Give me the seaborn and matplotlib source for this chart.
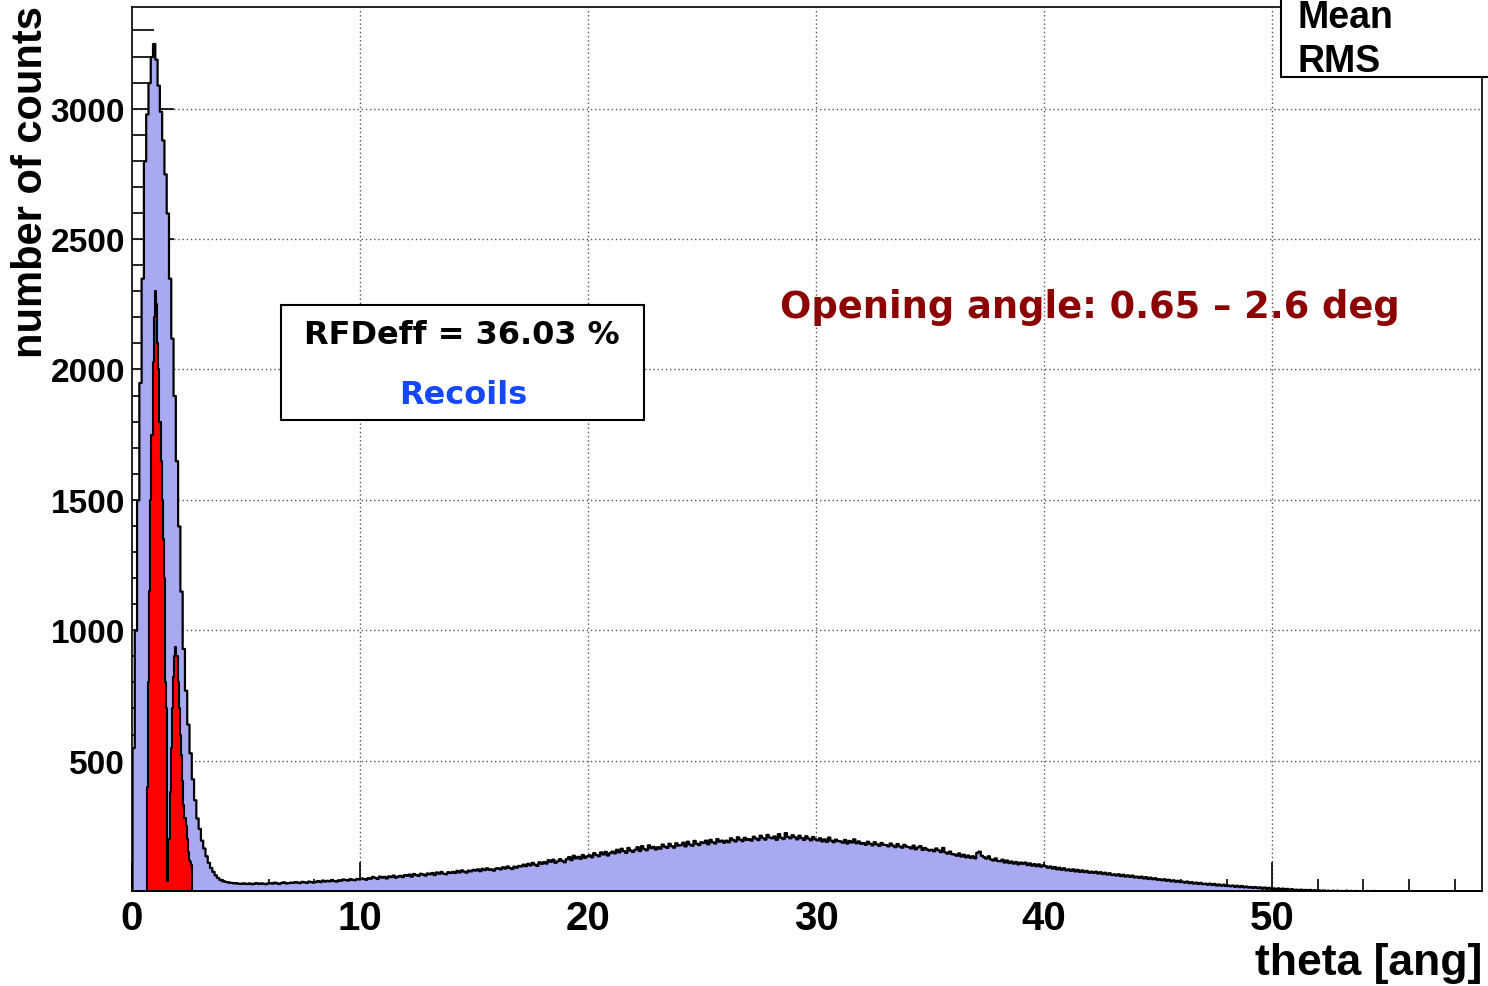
import numpy as np
import pandas as pd
import seaborn as sns
import matplotlib
matplotlib.use("Agg")
import matplotlib.pyplot as plt
from matplotlib.ticker import MultipleLocator, FixedLocator
from matplotlib.patches import Rectangle

# ---------------- data ----------------
BLUE_BIN = 0.1
blue_counts = [
    # 0.0 - 3.9 deg (peak)
    550, 1000, 1500, 1950, 2350, 2800, 2980, 3100, 3200, 3250,
    3190, 3090, 2990, 2880, 2750, 2600, 2350, 2120, 1900, 1650,
    1400, 1150, 930, 770, 640, 530, 430, 350, 280, 240,
    195, 165, 135, 110, 90, 75, 62, 52, 45, 40,
    # 4 .. 59 deg
    38, 36, 34, 33, 31, 32, 30, 29, 31, 30,
    29, 31, 28, 30, 32, 29, 31, 30, 28, 31,
    32, 30, 34, 31, 29, 33, 35, 31, 32, 34,
    33, 36, 34, 32, 37, 35, 33, 38, 36, 34,
    37, 40, 36, 42, 38, 41, 39, 44, 40, 38,
    43, 41, 46, 44, 42, 47, 45, 43, 48, 46,
    50, 48, 45, 51, 49, 56, 52, 48, 57, 53,
    56, 50, 58, 55, 61, 53, 57, 60, 55, 63,
    60, 65, 57, 67, 63, 60, 68, 65, 61, 69,
    66, 71, 63, 73, 68, 75, 68, 66, 74, 71,
    75, 71, 79, 73, 81, 76, 72, 80, 77, 83,
    80, 85, 78, 87, 82, 89, 83, 85, 80, 88,
    89, 85, 93, 88, 96, 90, 86, 95, 91, 98,
    96, 103, 97, 106, 100, 110, 103, 98, 112, 106,
    113, 107, 120, 114, 122, 110, 116, 124, 117, 112,
    124, 132, 120, 137, 127, 133, 125, 140, 129, 135,
    139, 131, 147, 140, 135, 150, 142, 152, 138, 147,
    153, 146, 160, 150, 164, 155, 148, 167, 157, 152,
    160, 170, 155, 174, 163, 158, 177, 166, 171, 161,
    170, 164, 180, 172, 167, 183, 174, 168, 185, 176,
    178, 187, 173, 191, 180, 175, 194, 183, 178, 189,
    186, 195, 181, 198, 189, 184, 201, 191, 195, 187,
    195, 189, 204, 197, 192, 208, 199, 193, 206, 198,
    201, 195, 210, 203, 197, 214, 205, 199, 217, 207,
    204, 211, 198, 220, 206, 201, 224, 209, 204, 216,
    208, 200, 214, 205, 198, 212, 203, 196, 209, 200,
    196, 204, 192, 200, 190, 207, 195, 189, 199, 193,
    192, 187, 198, 184, 194, 188, 200, 185, 192, 183,
    186, 179, 191, 183, 177, 189, 181, 175, 186, 179,
    178, 173, 184, 176, 170, 182, 173, 168, 179, 172,
    170, 165, 176, 162, 169, 174, 159, 167, 161, 157,
    160, 154, 165, 158, 151, 167, 150, 145, 153, 143,
    142, 137, 146, 134, 141, 131, 138, 129, 135, 127,
    148, 153, 137, 131, 126, 135, 123, 119, 127, 117,
    116, 122, 111, 119, 109, 115, 107, 113, 104, 111,
    106, 111, 101, 108, 99, 105, 97, 104, 95, 101,
    97, 91, 96, 88, 94, 85, 91, 83, 89, 81,
    85, 79, 85, 77, 83, 75, 81, 74, 79, 72,
    76, 71, 76, 69, 74, 67, 72, 65, 70, 63,
    66, 61, 66, 59, 64, 57, 62, 56, 61, 54,
    57, 52, 57, 50, 55, 48, 53, 47, 51, 45,
    47, 43, 47, 41, 45, 39, 43, 37, 41, 36,
    38, 34, 38, 32, 36, 30, 34, 29, 33, 28,
    30, 26, 30, 25, 29, 23, 27, 22, 26, 21,
    23, 20, 23, 18, 22, 17, 21, 16, 19, 15,
    17, 14, 17, 13, 16, 11, 15, 10, 14, 9,
    12, 8, 12, 7, 11, 6, 10, 5, 9, 5,
    7, 4, 7, 3, 6, 3, 6, 2, 5, 2,
    4, 2, 4, 1, 3, 1, 3, 1, 3, 1,
    2, 1, 3, 1, 2, 0, 2, 1, 1, 2,
    1, 2, 1, 0, 2, 1, 1, 0, 1, 1,
    1, 0, 1, 1, 0, 1, 0, 1, 0, 0,
    1, 0, 0, 1, 1, 0, 1, 0, 0, 1,
    0, 1, 0, 0, 1, 0, 0, 1, 0, 0,
    0, 0, 1, 0, 0, 0, 1, 0, 0, 0,
    0, 1,
]

RED_START = 0.65
RED_BIN = 0.05
red_counts = [
    400, 800, 1150, 1500, 1750, 2030, 2200, 2300, 2250, 2100,
    2000, 1800, 1650, 1500, 1350, 1200, 800, 700, 40, 200,
    380, 550, 700, 820, 900, 935, 900, 800, 700, 600,
    520, 420, 330, 280, 250, 200, 150, 120, 110, 100,
]

x_major = [0, 10, 20, 30, 40, 50]
y_major = [500, 1000, 1500, 2000, 2500, 3000]
x_label = "theta [ang]"
y_label = "number of counts"
eff_text = "RFDeff = 36.03 %"
sample_text = "Recoils"
cut_text = "Opening angle: 0.65 \u2013 2.6 deg"
stats_labels = ["Mean", "RMS"]

# ---------------- style ----------------
sns.set_theme(style="white")
plt.rcParams["font.family"] = ["Liberation Sans", "DejaVu Sans"]
plt.rcParams["font.weight"] = "bold"
plt.rcParams["text.color"] = "black"
plt.rcParams["axes.labelcolor"] = "black"
plt.rcParams["xtick.color"] = "black"
plt.rcParams["ytick.color"] = "black"
plt.rcParams["xtick.labelcolor"] = "black"
plt.rcParams["ytick.labelcolor"] = "black"

fig = plt.figure(figsize=(14.88, 9.87), dpi=100)
L, R, B, T = 132, 1482, 892, 8
W, H = 1488, 987
ax = fig.add_axes([L / W, (H - B) / H, (R - L) / W, (B - T) / H])
ax.set_facecolor("white")

blue_edges = [round(i * BLUE_BIN, 4) for i in range(len(blue_counts) + 1)]
blue_df = pd.DataFrame({"theta": [round((i + 0.5) * BLUE_BIN, 4) for i in range(len(blue_counts))],
                        "counts": blue_counts})
red_edges = [round(RED_START + i * RED_BIN, 4) for i in range(len(red_counts) + 1)]
red_df = pd.DataFrame({"theta": [round(RED_START + (i + 0.5) * RED_BIN, 4) for i in range(len(red_counts))],
                       "counts": red_counts})

sns.histplot(data=blue_df, x="theta", weights="counts", bins=blue_edges,
             element="step", fill=True, facecolor="#a9a9f2", edgecolor="black",
             linewidth=1.6, alpha=1, ax=ax, zorder=1)
sns.histplot(data=red_df, x="theta", weights="counts", bins=red_edges,
             element="step", fill=True, facecolor="#ff0000", edgecolor="black",
             linewidth=1.5, alpha=1, ax=ax, zorder=1.2)

ax.set_xlim(0, 59.2)
ax.set_ylim(0, 3390)

# grid (behind the histograms)
for v in x_major[1:]:
    ax.axvline(v, color="#555555", linestyle=(0, (1, 2)), linewidth=1.0, zorder=0.5)
for v in y_major:
    ax.axhline(v, color="#555555", linestyle=(0, (1, 2)), linewidth=1.0, zorder=0.5)

ax.xaxis.set_major_locator(FixedLocator(x_major))
ax.xaxis.set_minor_locator(MultipleLocator(2))
ax.yaxis.set_major_locator(FixedLocator(y_major))
ax.yaxis.set_minor_locator(MultipleLocator(100))
ax.tick_params(axis="x", which="major", direction="in", length=21, width=1.2,
               color="black", labelcolor="black", labelsize=29, pad=6, bottom=True)
ax.tick_params(axis="x", which="minor", direction="in", length=8.5, width=1.2,
               color="black", bottom=True)
ax.tick_params(axis="y", which="major", direction="in", length=30, width=1.2,
               color="black", labelcolor="black", labelsize=24, pad=5, left=True)
ax.tick_params(axis="y", which="minor", direction="in", length=15.5, width=1.2,
               color="black", left=True)
for lab in ax.get_xticklabels() + ax.get_yticklabels():
    lab.set_fontweight("bold")
ax.set_xlabel("")
ax.set_ylabel("")
for s in ax.spines.values():
    s.set_color("black")
    s.set_linewidth(1.2)
    s.set_zorder(3)

# axis titles
fig.text(31.5 / W, 1 - 6 / H, y_label, rotation=90, ha="center", va="top",
         fontsize=30, fontweight="bold", color="black")
fig.text(R / W, (H - 975) / H, x_label, ha="right", va="baseline",
         fontsize=32, fontweight="bold", color="black")

# efficiency box
ax_w, ax_h = R - L, B - T
box_x0 = (281 - L) / ax_w
box_x1 = (644 - L) / ax_w
box_y0 = (B - 421) / ax_h
box_y1 = (B - 306) / ax_h
ax.add_patch(Rectangle((box_x0, box_y0), box_x1 - box_x0, box_y1 - box_y0,
                       transform=ax.transAxes, facecolor="white",
                       edgecolor="black", linewidth=1.5, zorder=4))
ax.text((462 - L) / ax_w, (B - 336) / ax_h, eff_text, transform=ax.transAxes,
        ha="center", va="center", fontsize=23, fontweight="bold",
        family="DejaVu Sans", color="black", zorder=5)
ax.text((463 - L) / ax_w, (B - 395) / ax_h, sample_text, transform=ax.transAxes,
        ha="center", va="center", fontsize=23, fontweight="bold",
        family="DejaVu Sans", color="#1448ff", zorder=5)
ax.text((1090 - L) / ax_w, (B - 307) / ax_h, cut_text, transform=ax.transAxes,
        ha="center", va="center", fontsize=26.5, fontweight="bold",
        family="DejaVu Sans", color="#8c0000", zorder=5)

# stats box (cut at the top right of the canvas)
fig.patches.append(Rectangle((1281 / W, (H - 78) / H), 0.2, 0.2,
                             transform=fig.transFigure, facecolor="white",
                             edgecolor="black", linewidth=1.5, zorder=10))
fig.text(1297 / W, (H - 28) / H, stats_labels[0], ha="left", va="baseline",
         fontsize=27, fontweight="bold", color="black", zorder=11)
fig.text(1297 / W, (H - 72) / H, stats_labels[1], ha="left", va="baseline",
         fontsize=27, fontweight="bold", color="black", zorder=11)

fig.savefig("out.png", dpi=100, facecolor="white")
